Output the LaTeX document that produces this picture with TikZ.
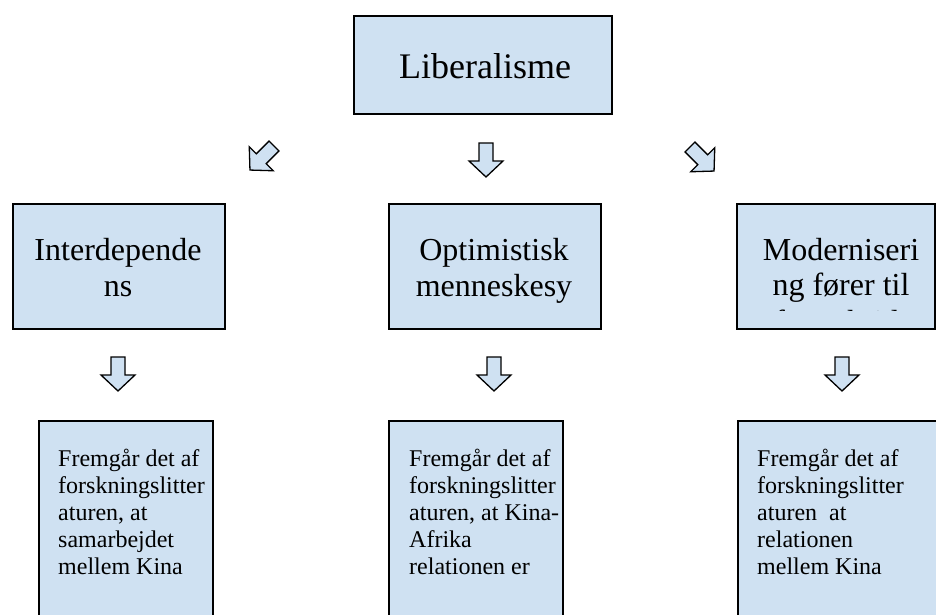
\documentclass[tikz,border=0pt]{standalone}
\usepackage{fontspec}
\setmainfont{Liberation Serif}
\definecolor{boxfill}{RGB}{207,225,242}
\tikzset{
  box/.style={draw=black,line width=1.6pt,fill=boxfill,inner sep=0,anchor=north west},
  bigtxt/.style={font=\fontsize{36}{40}\selectfont,inner sep=0,anchor=base},
  midtxt/.style={font=\fontsize{32}{36}\selectfont,inner sep=0,anchor=base},
  smalltxt/.style={font=\fontsize{24}{27}\selectfont,inner sep=0,anchor=base west},
  blockarrow/.pic={
    \draw[draw=black,line width=1.3pt,fill=boxfill,line join=miter]
      (-7,0) -- (7,0) -- (7,18) -- (17,18) -- (0,34) -- (-17,18) -- (-7,18) -- cycle;
  }
}
\begin{document}
\begin{tikzpicture}[x=1pt,y=-1pt]
\useasboundingbox (0,0) rectangle (936,614);
\clip (0,0) rectangle (936,614);

% top box
\node[box,minimum width=258,minimum height=98] (lib) at (353,15) {};
\node[bigtxt] (tlib) at (485,78) {Liberalisme};

% arrows from top
\pic[rotate=-45] at (274,146) {blockarrow};
\pic at (486,143) {blockarrow};
\pic[rotate=45] at (690,147) {blockarrow};

% middle row boxes
\node[box,minimum width=212,minimum height=125] (b1) at (12,203) {};
\node[box,minimum width=212,minimum height=125] (b2) at (388,203) {};
\node[box,minimum width=198,minimum height=125] (b3) at (736,203) {};

\node[midtxt] (t1a) at (118,260) {Interdepende};
\node[midtxt] (t1b) at (118,296) {ns};
\node[midtxt] (t2a) at (494,260) {Optimistisk};
\node[midtxt] (t2b) at (494,296) {menneskesy};
\node[midtxt] (t3a) at (841,260) {Moderniseri};
\node[midtxt] (t3b) at (841,295) {ng fører til};
\begin{scope}
  \clip (738,205) rectangle (932,310);
  \node[midtxt] (t3c) at (841,332) {fremskridt};
\end{scope}

% arrows to bottom row
\pic at (118,357) {blockarrow};
\pic at (494,357) {blockarrow};
\pic at (842,357) {blockarrow};

% bottom row boxes
\node[box,minimum width=174,minimum height=240] (c1) at (38,420) {};
\node[box,minimum width=174,minimum height=240] (c2) at (388,420) {};
\node[box,minimum width=223,minimum height=240] (c3) at (737,420) {};

\node[smalltxt] (u1a) at (58,466) {Fremgår det af};
\node[smalltxt] (u1b) at (58,493) {forskningslitter};
\node[smalltxt] (u1c) at (58,520) {aturen, at};
\node[smalltxt] (u1d) at (58,547) {samarbejdet};
\node[smalltxt] (u1e) at (58,574) {mellem Kina};

\node[smalltxt] (u2a) at (409,466) {Fremgår det af};
\node[smalltxt] (u2b) at (409,493) {forskningslitter};
\node[smalltxt] (u2c) at (409,520) {aturen, at Kina-};
\node[smalltxt] (u2d) at (409,547) {Afrika};
\node[smalltxt] (u2e) at (409,574) {relationen er};

\node[smalltxt] (u3a) at (757,466) {Fremgår det af};
\node[smalltxt] (u3b) at (757,493) {forskningslitter};
\node[smalltxt] (u3c) at (757,520) {aturen\ \ at};
\node[smalltxt] (u3d) at (757,547) {relationen};
\node[smalltxt] (u3e) at (757,574) {mellem Kina};
\end{tikzpicture}
\end{document}
